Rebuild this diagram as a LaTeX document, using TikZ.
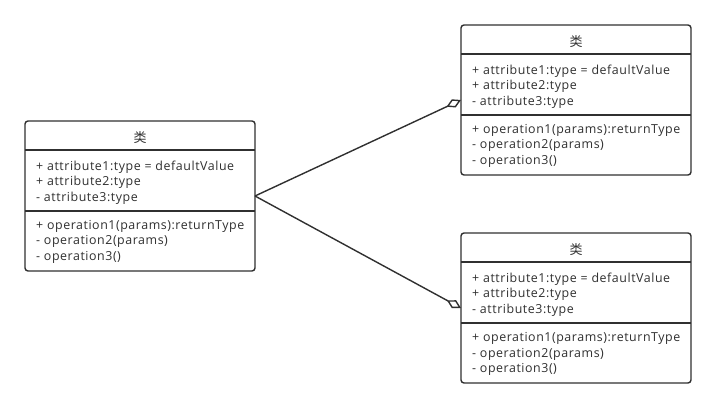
\documentclass[tikz,border=0pt]{standalone}
\usepackage{fontspec}
\setmainfont{Open Sans}[LetterSpace=4.5]
\newfontfamily\cjk{Noto Sans CJK SC}
\usetikzlibrary{arrows.meta}
\definecolor{ink}{HTML}{303030}
\begin{document}
\begin{tikzpicture}[x=1pt,y=-1pt,
  box/.style={draw=ink, line width=1.4pt, rounded corners=3pt, fill=white,
    minimum width=230pt, minimum height=150pt, inner sep=0pt, outer sep=0pt},
  sep/.style={draw=ink, line width=1.3pt},
  txt/.style={anchor=base west, inner sep=0pt, text=ink, font=\fontsize{12.4}{14}\selectfont},
  title/.style={inner sep=0pt, text=ink, font=\cjk\fontsize{13}{15}\selectfont},
  agg/.style={draw=ink, line width=1.4pt, -{Diamond[fill=white, length=16pt, width=9pt]}}
]
\useasboundingbox (0,0) rectangle (716,409);
\newcommand\umlclass[3]{%
  \node[box, anchor=north west] (#1) at (#2,#3) {};
  \draw[sep] ([yshift=-29pt]#1.north west) -- ([yshift=-29pt]#1.north east);
  \draw[sep] ([yshift=-90pt]#1.north west) -- ([yshift=-90pt]#1.north east);
  \node[title] (#1-t) at ([yshift=-17pt]#1.north) {类};
  \node[txt] (#1-a1) at ([xshift=11pt,yshift=-49.5pt]#1.north west) {+ attribute1:type = defaultValue};
  \node[txt] (#1-a2) at ([xshift=11pt,yshift=-65pt]#1.north west) {+ attribute2:type};
  \node[txt] (#1-a3) at ([xshift=11pt,yshift=-80.5pt]#1.north west) {- attribute3:type};
  \node[txt] (#1-o1) at ([xshift=11pt,yshift=-108.5pt]#1.north west) {+ operation1(params):returnType};
  \node[txt] (#1-o2) at ([xshift=11pt,yshift=-124pt]#1.north west) {- operation2(params)};
  \node[txt] (#1-o3) at ([xshift=11pt,yshift=-139.5pt]#1.north west) {- operation3()};
}
\umlclass{L}{25}{121}
\umlclass{T}{461}{25}
\umlclass{B}{461}{233}
\draw[agg] (L.east) -- (T.west);
\draw[agg] (L.east) -- (B.west);
\end{tikzpicture}
\end{document}
